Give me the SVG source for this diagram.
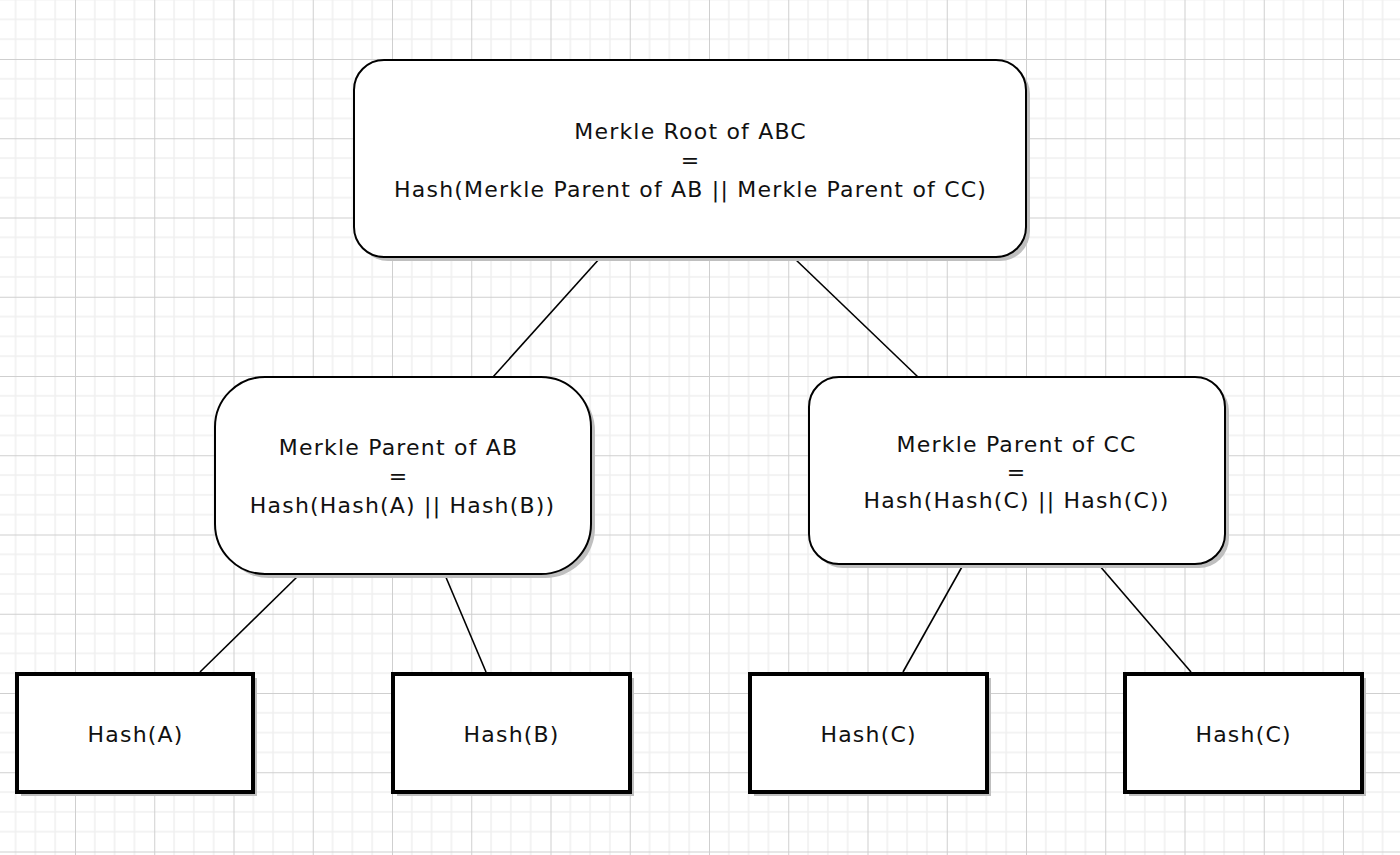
<svg xmlns="http://www.w3.org/2000/svg" width="1400" height="855" viewBox="0 0 1400 855">
<defs>
<pattern id="grid" patternUnits="userSpaceOnUse" x="75" y="59" width="79.25" height="79.25">
<path d="M19.81 0V79.25M39.62 0V79.25M59.44 0V79.25M0 19.81H79.25M0 39.62H79.25M0 59.44H79.25" stroke="#efefef" stroke-width="1.5" fill="none"/>
<path d="M0.5 0V79.25M0 0.5H79.25" stroke="#cfcfcf" stroke-width="1" fill="none"/>
</pattern>
</defs>
<style>
.box{fill:#fff;stroke:#000;stroke-width:2}
.leaf{fill:#fff;stroke:#000;stroke-width:4}
.sh{fill:#bfbfbf}
.t{font-family:"DejaVu Sans","Verdana",sans-serif;font-size:22px;letter-spacing:1.2px;fill:#111;text-anchor:middle}
.c{stroke:#000;stroke-width:1.6;fill:none}
</style>
<rect width="1400" height="855" fill="#fff"/>
<rect width="1400" height="855" fill="url(#grid)"/>
<g id="connectors">
<line class="c" x1="600" y1="258" x2="493" y2="377"/>
<line class="c" x1="794" y1="258" x2="918" y2="377"/>
<line class="c" x1="299" y1="575" x2="200" y2="672"/>
<line class="c" x1="445" y1="575" x2="486" y2="672"/>
<line class="c" x1="963" y1="565" x2="903" y2="672"/>
<line class="c" x1="1099" y1="565" x2="1191" y2="672"/>
</g>
<g id="root">
<rect class="sh" x="358" y="64" width="672" height="197" rx="30"/>
<rect class="box" x="354" y="60" width="672" height="197" rx="30"/>
<text class="t" x="690.6" y="139">Merkle Root of ABC</text>
<text class="t" x="690.6" y="168">=</text>
<text class="t" x="690.6" y="197">Hash(Merkle Parent of AB || Merkle Parent of CC)</text>
</g>
<g id="parentAB">
<rect class="sh" x="219" y="381" width="376" height="197" rx="50"/>
<rect class="box" x="215" y="377" width="376" height="197" rx="50"/>
<text class="t" x="398.6" y="455">Merkle Parent of AB</text>
<text class="t" x="398.6" y="484">=</text>
<text class="t" x="402.6" y="513">Hash(Hash(A) || Hash(B))</text>
</g>
<g id="parentCC">
<rect class="sh" x="813" y="381" width="416" height="187" rx="30"/>
<rect class="box" x="809" y="377" width="416" height="187" rx="30"/>
<text class="t" x="1016.6" y="452">Merkle Parent of CC</text>
<text class="t" x="1016.6" y="480">=</text>
<text class="t" x="1016.6" y="508">Hash(Hash(C) || Hash(C))</text>
</g>
<g id="leafA">
<rect class="sh" x="21" y="678" width="236" height="118"/>
<rect class="leaf" x="17" y="674" width="236" height="118"/>
<text class="t" x="135.6" y="742">Hash(A)</text>
</g>
<g id="leafB">
<rect class="sh" x="397" y="678" width="237" height="118"/>
<rect class="leaf" x="393" y="674" width="237" height="118"/>
<text class="t" x="511.6" y="742">Hash(B)</text>
</g>
<g id="leafC1">
<rect class="sh" x="754" y="678" width="237" height="118"/>
<rect class="leaf" x="750" y="674" width="237" height="118"/>
<text class="t" x="868.6" y="742">Hash(C)</text>
</g>
<g id="leafC2">
<rect class="sh" x="1129" y="678" width="237" height="118"/>
<rect class="leaf" x="1125" y="674" width="237" height="118"/>
<text class="t" x="1243.6" y="742">Hash(C)</text>
</g>
</svg>
